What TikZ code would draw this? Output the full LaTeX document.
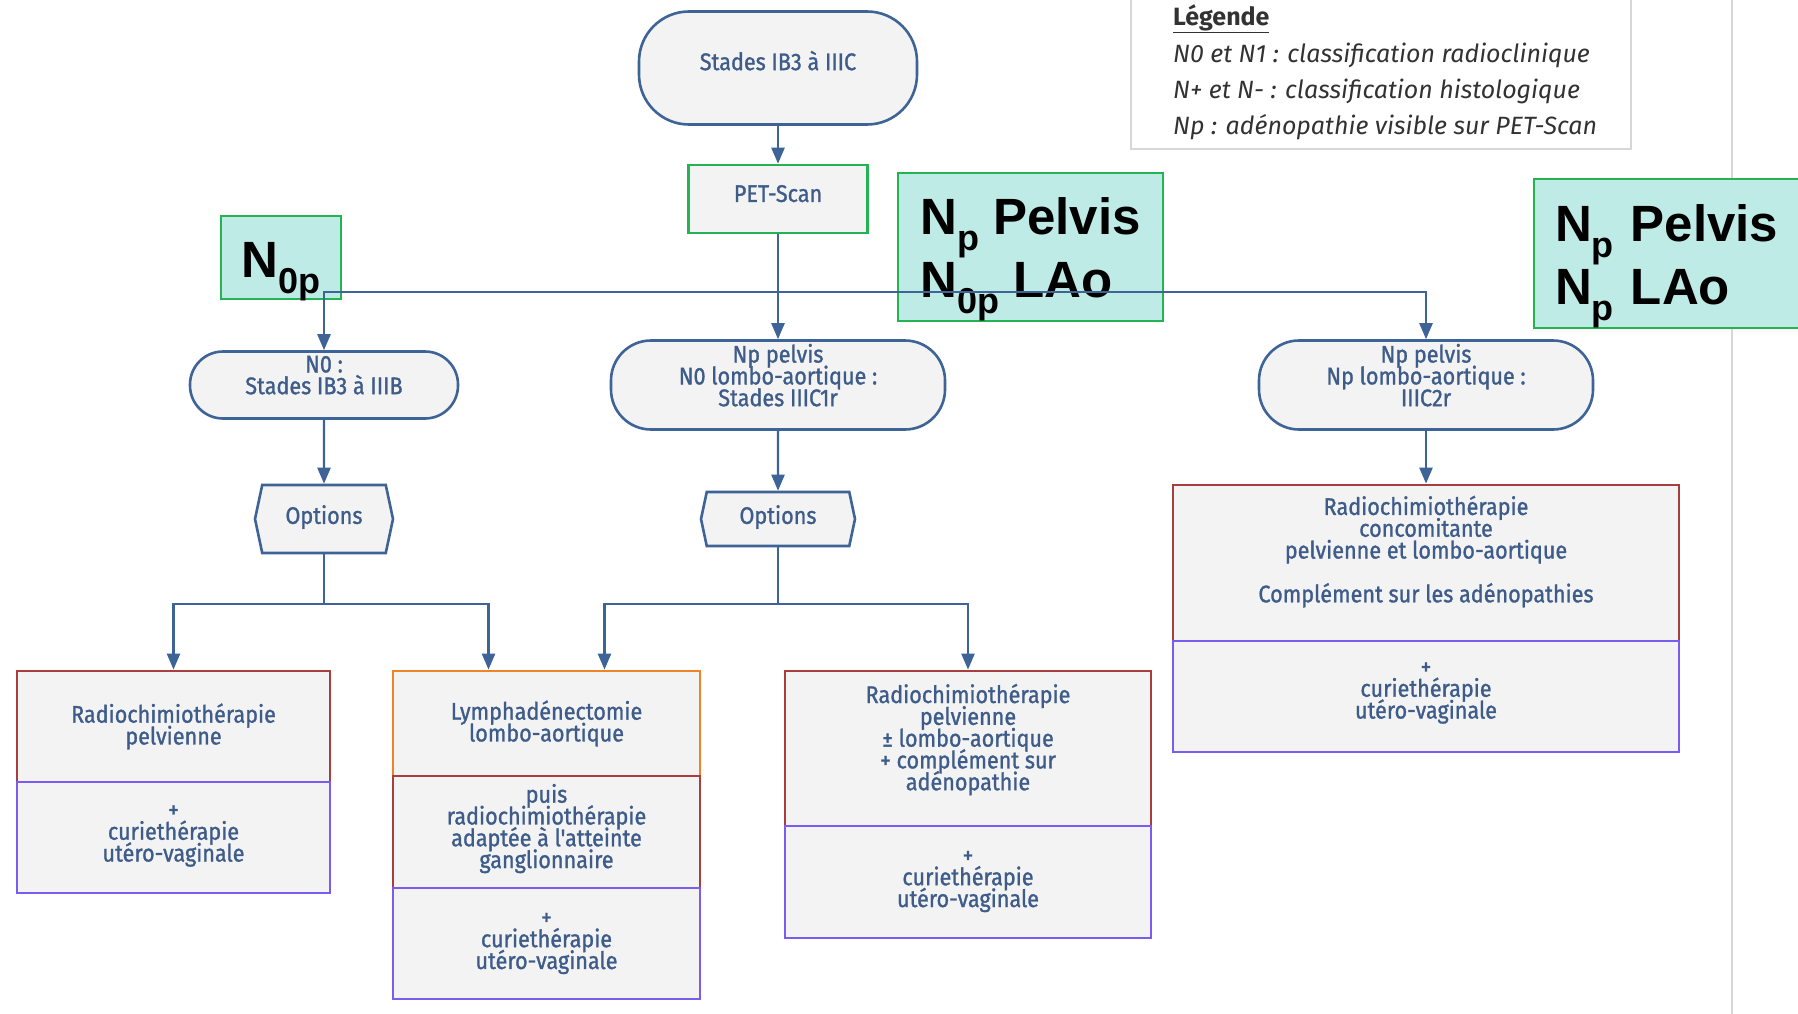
\documentclass[tikz,border=0pt]{standalone}
\usepackage{fontspec}
\setmainfont{Fira Sans}
\newfontfamily\boxfont{Fira Sans}[FakeStretch=0.9,FakeBold=1.2]
\newfontfamily\tagfamily{Liberation Sans}
\usetikzlibrary{arrows.meta,shapes.symbols}

\definecolor{lineblue}{RGB}{62,99,150}
\definecolor{textblue}{RGB}{62,92,138}
\definecolor{boxfill}{RGB}{243,243,243}
\definecolor{petgreen}{RGB}{36,178,82}
\definecolor{tagfill}{RGB}{190,235,230}
\definecolor{rcred}{RGB}{168,62,62}
\definecolor{curie}{RGB}{122,92,240}
\definecolor{surgorange}{RGB}{240,130,40}
\definecolor{rulegray}{RGB}{215,215,215}
\definecolor{legtext}{RGB}{50,50,50}

\newcommand\subidx[1]{\raisebox{-0.32em}{\fontsize{36}{36}\selectfont #1}}
\newcommand\lift[1][20pt]{\rule[-#1]{0pt}{0pt}}
\newcommand\drop{\rule{0pt}{62pt}}
\setlength{\lineskiplimit}{-40pt}

\tikzset{
  boxtext/.style={text=textblue, align=center, inner sep=0pt,
    font=\boxfont\fontsize{24}{21.8}\selectfont},
  flow/.style={boxtext, draw=lineblue, line width=2.6pt, fill=boxfill},
  term/.style={flow, rounded corners=#1},
  optbox/.style={flow, shape=signal, signal from=nowhere,
    signal to=east and west, signal pointer angle=156},
  treat/.style={boxtext, draw=#1, line width=2.8pt, fill=boxfill},
  tag/.style={draw=petgreen, fill=tagfill, line width=2.2pt, text=black,
    align=left, inner sep=0pt,
    font=\tagfamily\bfseries\fontsize{51}{63}\selectfont},
  legline/.style={anchor=west, inner sep=0pt, text=legtext,
    font=\itshape\fontsize{25}{28}\selectfont},
  link/.style={draw=lineblue, line width=2.4pt},
  arrow/.style={link, -{Triangle[length=16pt,width=13pt]}},
}

\begin{document}
\begin{tikzpicture}[x=1pt,y=-1pt]
\useasboundingbox (0,0) rectangle (1798,1014);
\fill[white] (0,0) rectangle (1798,1014);
\clip (0,0) rectangle (1798,1014);

% page edge and legend
\draw[rulegray, line width=1.6pt] (1732,0) -- (1732,1014);
\draw[rulegray, line width=1.6pt] (1131,-10) rectangle (1631,149);
\node[legline, font=\bfseries\fontsize{25}{28}\selectfont] (leghead) at (1173,19) {\underline{Légende}};
\node[legline] (leg1) at (1173,55) {N0 et N1 : classification radioclinique};
\node[legline] (leg2) at (1173,91) {N+ et N- : classification histologique};
\node[legline] (leg3) at (1173,127) {Np : adénopathie visible sur PET-Scan};

% PET-Scan tags
\node[tag, text height=60pt, text depth=20pt, minimum width=120, minimum height=83] (tag0) at (281,257.5) {N\subidx{0p}};
\node[tag, minimum width=265, minimum height=148] (tag1) at (1030.5,247) {\drop N\subidx{p} Pelvis\\N\subidx{0p} LAo};
\node[tag, text width=250, inner xsep=21, minimum height=149] (tag2) at (1680,253.5) {\drop N\subidx{p} Pelvis\\N\subidx{p} LAo};

% top of the tree
\node[term=50, minimum width=278, minimum height=113] (start) at (778,68) {Stades IB3 à IIIC\lift[15pt]};
\node[flow, draw=petgreen, minimum width=179, minimum height=68] (pet) at (778,199) {PET-Scan\lift[11pt]};
\node[term=33, minimum width=268, minimum height=67] (n0) at (324,385) {N0 :\\Stades IB3 à IIIB\lift};
\node[term=40, minimum width=334, minimum height=89] (np0) at (778,385) {Np pelvis\\N0 lombo-aortique :\\Stades IIIC1r\lift};
\node[term=40, minimum width=334, minimum height=89] (npnp) at (1426,385) {Np pelvis\\Np lombo-aortique :\\IIIC2r\lift};
\node[optbox, minimum width=138, minimum height=68] (opt1) at (324,519) {Options\lift[9pt]};
\node[optbox, minimum width=154, minimum height=54] (opt2) at (778,519) {Options\lift[9pt]};

% treatments
\node[treat=rcred, minimum width=313, minimum height=111] (rcp) at (173.5,726.5) {Radiochimiothérapie\\pelvienne};
\node[treat=curie, minimum width=313, minimum height=111] (cuv1) at (173.5,837.5) {+\\curiethérapie\\utéro-vaginale\lift[8pt]};
\node[treat=surgorange, minimum width=307, minimum height=105] (lymph) at (546.5,723.5) {Lymphadénectomie\\lombo-aortique};
\node[treat=rcred, minimum width=307, minimum height=112] (rcadapt) at (546.5,832) {puis\\radiochimiothérapie\\adaptée à l'atteinte\\ganglionnaire\lift[12pt]};
\node[treat=curie, minimum width=307, minimum height=111] (cuv2) at (546.5,943.5) {+\\curiethérapie\\utéro-vaginale\lift[4pt]};
\node[treat=rcred, minimum width=366, minimum height=155] (rcpl) at (968,748.5) {Radiochimiothérapie\\pelvienne\\± lombo-aortique\\+ complément sur\\adénopathie\lift[23pt]};
\node[treat=curie, minimum width=366, minimum height=112] (cuv3) at (968,882) {+\\curiethérapie\\utéro-vaginale\lift[6pt]};
\node[treat=rcred, minimum width=506, minimum height=156] (rcc) at (1426,563) {Radiochimiothérapie\\concomitante\\pelvienne et lombo-aortique\\[22pt]Complément sur les adénopathies\lift[28pt]};
\node[treat=curie, minimum width=506, minimum height=111] (cuv4) at (1426,696.5) {+\\curiethérapie\\utéro-vaginale\lift[12pt]};

% connectors
\coordinate (split) at (778,292);
\coordinate (fork1) at (324,604);
\coordinate (fork2) at (778,604);
\draw[arrow] (start) -- (pet);
\draw[arrow] (pet) -- (np0);
\draw[arrow] (split) -| (n0);
\draw[arrow] (split) -| (npnp);
\draw[arrow] (n0) -- (opt1);
\draw[arrow] (np0) -- (opt2);
\draw[arrow] (npnp) -- (rcc);
\draw[link] (opt1) -- (fork1);
\draw[arrow] (fork1) -| (rcp);
\draw[arrow] (fork1) -| ([xshift=-58pt]lymph.north);
\draw[link] (opt2) -- (fork2);
\draw[arrow] (fork2) -| ([xshift=58pt]lymph.north);
\draw[arrow] (fork2) -| (rcpl);
\end{tikzpicture}
\end{document}
